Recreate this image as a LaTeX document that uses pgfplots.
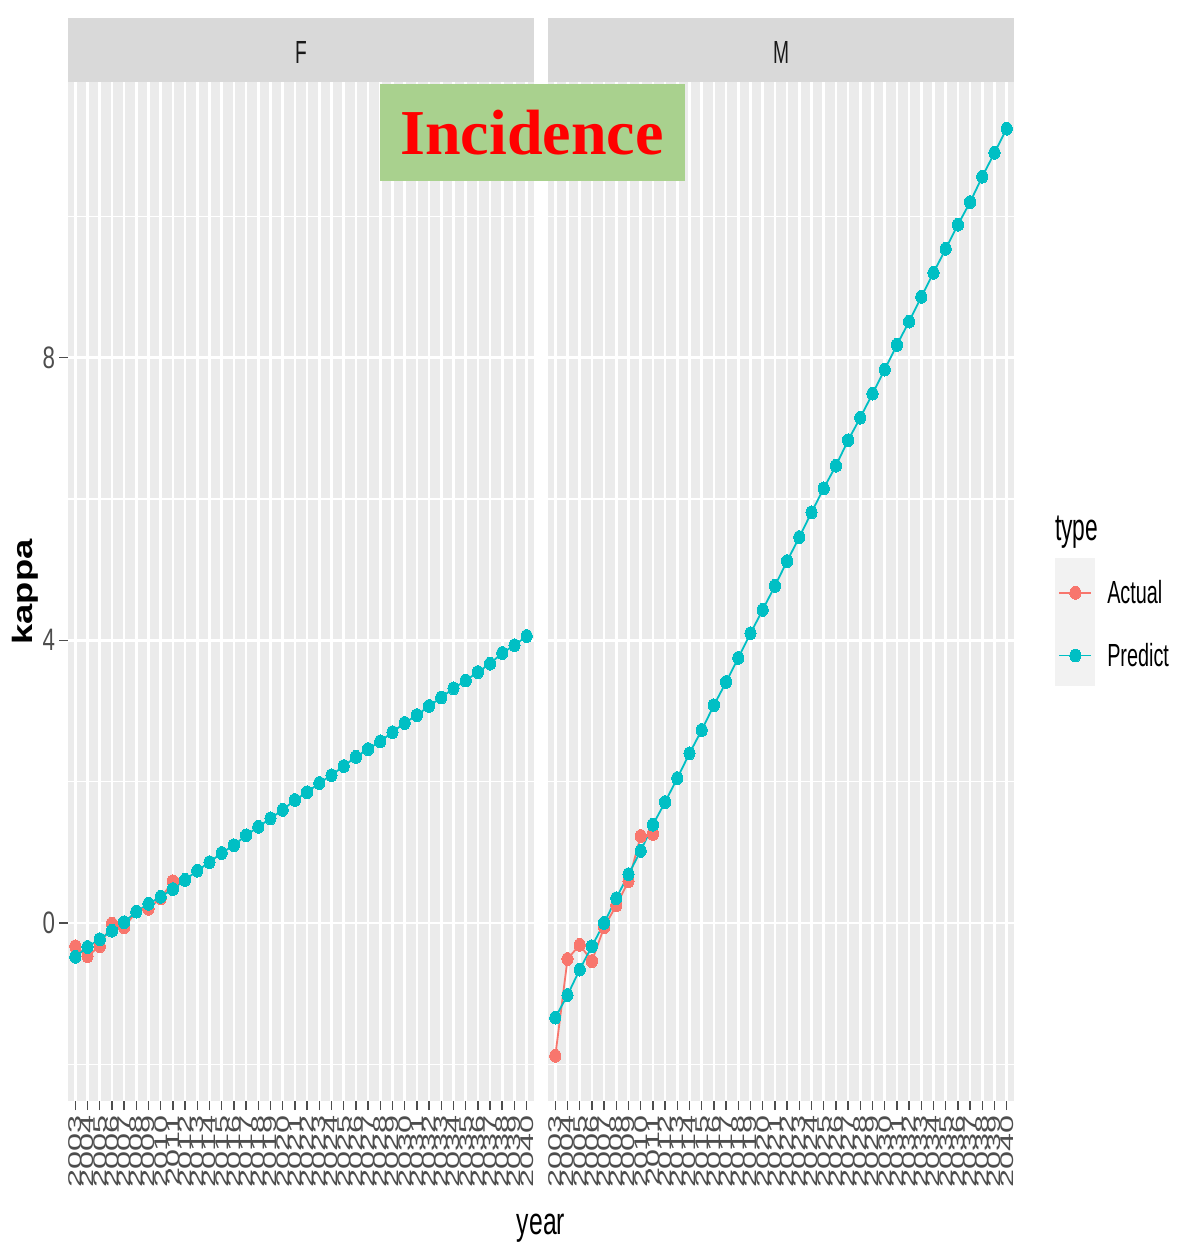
\documentclass[border=0pt]{standalone}
\usepackage{pgfplots}
\pgfplotsset{compat=1.18}
\usepackage{pgfplotstable}
\usepackage{graphicx}
\usepackage{fontspec}
\setmainfont{Liberation Sans}
\newfontfamily\incfont{Liberation Serif}
\definecolor{actual}{HTML}{F8766D}
\definecolor{predict}{HTML}{00BFC4}
\definecolor{panelbg}{HTML}{EBEBEB}
\definecolor{stripbg}{HTML}{D9D9D9}
\definecolor{legbg}{HTML}{F2F2F2}
\definecolor{gthirty}{HTML}{4D4D4D}
\definecolor{incbg}{HTML}{A9D18E}

\pgfplotstableread{
year F M
2003 -0.48 -1.34
2004 -0.34 -1.02
2005 -0.23 -0.66
2006 -0.11 -0.33
2007 0.01 0.00
2008 0.16 0.35
2009 0.27 0.69
2010 0.37 1.02
2011 0.48 1.39
2012 0.61 1.71
2013 0.74 2.05
2014 0.86 2.40
2015 0.99 2.73
2016 1.10 3.08
2017 1.24 3.41
2018 1.36 3.75
2019 1.48 4.10
2020 1.60 4.43
2021 1.74 4.77
2022 1.85 5.12
2023 1.98 5.46
2024 2.09 5.81
2025 2.22 6.15
2026 2.35 6.47
2027 2.46 6.83
2028 2.57 7.15
2029 2.70 7.49
2030 2.83 7.83
2031 2.94 8.18
2032 3.07 8.51
2033 3.19 8.86
2034 3.32 9.20
2035 3.43 9.54
2036 3.55 9.88
2037 3.67 10.20
2038 3.82 10.56
2039 3.93 10.90
2040 4.06 11.24
}\predicttab

\pgfplotstableread{
year F M
2003 -0.33 -1.88
2004 -0.47 -0.51
2005 -0.33 -0.31
2006 -0.01 -0.54
2007 -0.06 -0.06
2008 0.16 0.25
2009 0.20 0.59
2010 0.35 1.23
2011 0.59 1.26
}\actualtab

\pgfplotsset{
  facet/.style={
    scale only axis, width=466pt, height=1019pt, anchor=south west,
    xmin=2002.4, xmax=2040.6, ymin=-2.52, ymax=11.90,
    axis background/.style={fill=panelbg},
    axis line style={draw=none},
    xtick={2003,2004,...,2040}, ytick={0,4,8}, minor ytick={-2,2,6,10},
    xmajorgrids, ymajorgrids, yminorgrids,
    major grid style={white, line width=2.6pt},
    minor grid style={white, line width=1.3pt},
    tick align=outside, major tick length=9pt, minor tick length=0pt,
    tick style={gthirty, line width=1.5pt},
    xtick pos=bottom, ytick pos=left,
    /pgf/number format/assume math mode=true,
    xticklabel={\scalebox{1.75}[1]{\pgfmathprintnumber[fixed,precision=0,1000 sep={}]{\tick}}},
    xticklabel style={rotate=90, anchor=east, font=\fontsize{18.5}{18.5}\selectfont, text=gthirty, inner sep=5pt},
    yticklabel={\scalebox{0.72}[1]{\pgfmathprintnumber{\tick}}},
    yticklabel style={font=\fontsize{31}{31}\selectfont, text=gthirty, inner sep=3pt},
    line width=1.8pt,
    legend image code/.code={\draw[mark repeat=2,mark phase=2,##1] plot coordinates {(0pt,0pt) (16pt,0pt) (32pt,0pt)};},
  },
  actstyle/.style={color=actual, mark=*, mark size=5.6pt, mark options={solid, fill=actual, draw=actual, line width=0pt, yscale=1.15}},
  prestyle/.style={color=predict, mark=*, mark size=5.6pt, mark options={solid, fill=predict, draw=predict, line width=0pt, yscale=1.15}},
}

\begin{document}
\begin{tikzpicture}
\path[use as bounding box] (0pt,0pt) rectangle (1178pt,-1243pt);

% legend key background
\fill[legbg] (1055pt,-558pt) rectangle (1095pt,-686pt);

\begin{axis}[facet, at={(68pt,-1101pt)}]
\addplot[actstyle] table[x=year, y=F] {\actualtab};
\addplot[prestyle] table[x=year, y=F] {\predicttab};
\end{axis}

\begin{axis}[facet, at={(548pt,-1101pt)}, yticklabels={}, ytick style={draw=none},
  legend style={at={(1.087,0.468)}, anchor=west, draw=none, fill=none,
    font=\fontsize{32}{32}\selectfont, row sep=34pt, column sep=13pt,
    nodes={inner sep=2pt}},
  legend cell align=left]
\addplot[actstyle] table[x=year, y=M] {\actualtab};
\addlegendentry{\scalebox{0.62}[1]{Actual}}
\addplot[prestyle] table[x=year, y=M] {\predicttab};
\addlegendentry{\scalebox{0.62}[1]{Predict}}
\end{axis}

% strips
\fill[stripbg] (68pt,-18pt) rectangle (534pt,-82pt);
\fill[stripbg] (548pt,-18pt) rectangle (1014pt,-82pt);
\node[text=black!90] at (301pt,-52pt) {\fontsize{32}{32}\selectfont\scalebox{0.6}[1]{F}};
\node[text=black!90] at (781pt,-52pt) {\fontsize{32}{32}\selectfont\scalebox{0.6}[1]{M}};

% axis titles
\node[rotate=90] at (25pt,-592pt) {\fontsize{28}{28}\selectfont\bfseries\scalebox{1.3}[1]{kappa}};
\node[anchor=base] at (541pt,-1234pt) {\fontsize{38}{38}\selectfont\scalebox{0.65}[1]{year}};
\node[anchor=base west, inner sep=0pt] at (1055pt,-540pt) {\fontsize{38}{38}\selectfont\scalebox{0.6}[1]{type}};

% Incidence label
\fill[incbg] (380pt,-84pt) rectangle (685pt,-181pt);
\node[text=red] at (532pt,-133pt) {\incfont\bfseries\fontsize{64}{64}\selectfont Incidence};
\end{tikzpicture}
\end{document}
